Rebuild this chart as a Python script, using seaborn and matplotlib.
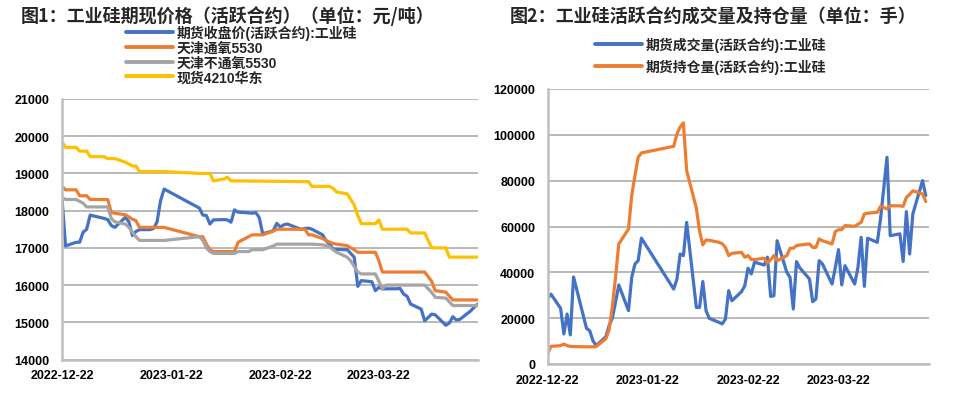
import matplotlib
matplotlib.use("Agg")
import matplotlib.pyplot as plt
import matplotlib.dates as mdates
from matplotlib.font_manager import FontProperties
import seaborn as sns
import pandas as pd

# ---------------- data: left chart (元/吨) ----------------
fut_close_dates = ["2022-12-22", "2022-12-23", "2022-12-26", "2022-12-27", "2022-12-28", "2022-12-29", "2022-12-30",
                   "2023-01-03", "2023-01-04", "2023-01-05", "2023-01-06", "2023-01-09", "2023-01-10", "2023-01-11",
                   "2023-01-12", "2023-01-13", "2023-01-16", "2023-01-17", "2023-01-18", "2023-01-19", "2023-01-20",
                   "2023-01-30", "2023-01-31", "2023-02-01", "2023-02-02", "2023-02-03", "2023-02-06", "2023-02-07",
                   "2023-02-08", "2023-02-09", "2023-02-10", "2023-02-13", "2023-02-14", "2023-02-15", "2023-02-16",
                   "2023-02-17", "2023-02-20", "2023-02-21", "2023-02-22", "2023-02-23", "2023-02-24", "2023-02-27",
                   "2023-02-28", "2023-03-01", "2023-03-02", "2023-03-03", "2023-03-06", "2023-03-07", "2023-03-08",
                   "2023-03-09", "2023-03-10", "2023-03-13", "2023-03-14", "2023-03-15", "2023-03-16", "2023-03-17",
                   "2023-03-20", "2023-03-21", "2023-03-22", "2023-03-23", "2023-03-24", "2023-03-27", "2023-03-28",
                   "2023-03-29", "2023-03-30", "2023-03-31", "2023-04-03", "2023-04-04", "2023-04-06", "2023-04-07",
                   "2023-04-10", "2023-04-11", "2023-04-12", "2023-04-13", "2023-04-14", "2023-04-17", "2023-04-18",
                   "2023-04-19"]
fut_close = [18330, 17050, 17150, 17150, 17420, 17500, 17880,
             17790, 17760, 17600, 17550, 17820, 17700, 17330,
             17440, 17490, 17490, 17520, 17700, 18270, 18580,
             18070, 17880, 17870, 17640, 17750, 17760, 17750,
             17690, 18020, 17960, 17940, 17930, 17950, 17820,
             17380, 17460, 17660, 17560, 17620, 17640, 17530,
             17500, 17520, 17530, 17500, 17350, 17190, 17100,
             16970, 16960, 16950, 16850, 16745, 15965, 16120,
             16090, 15850, 15940, 15895, 15900, 15900, 15910,
             15760, 15700, 15490, 15355, 15040, 15220, 15200,
             14920, 14980, 15150, 15060, 15080, 15300, 15400,
             15480]

tj_oxy_dates = ["2022-12-22", "2022-12-23", "2022-12-26", "2022-12-27", "2022-12-29", "2022-12-30", "2023-01-04",
                "2023-01-05", "2023-01-06", "2023-01-09", "2023-01-10", "2023-01-11", "2023-01-12", "2023-01-13",
                "2023-01-20", "2023-01-30", "2023-01-31", "2023-02-01", "2023-02-02", "2023-02-03", "2023-02-09",
                "2023-02-10", "2023-02-13", "2023-02-14", "2023-02-17", "2023-02-20", "2023-02-21", "2023-03-01",
                "2023-03-02", "2023-03-03", "2023-03-06", "2023-03-07", "2023-03-08", "2023-03-09", "2023-03-10",
                "2023-03-13", "2023-03-14", "2023-03-15", "2023-03-16", "2023-03-21", "2023-03-22", "2023-03-23",
                "2023-04-04", "2023-04-06", "2023-04-07", "2023-04-10", "2023-04-11", "2023-04-12", "2023-04-19"]
tj_oxy = [18650, 18560, 18560, 18400, 18400, 18300, 18300,
          17950, 17930, 17890, 17830, 17770, 17730, 17550,
          17550, 17300, 17300, 17100, 16950, 16900, 16900,
          17150, 17300, 17350, 17350, 17450, 17500, 17500,
          17350, 17350, 17250, 17200, 17150, 17120, 17100,
          17060, 17000, 16950, 16880, 16880, 16650, 16350,
          16350, 16100, 15850, 15810, 15700, 15600, 15600]

tj_nonoxy_dates = ["2022-12-22", "2022-12-23", "2022-12-26", "2022-12-27", "2022-12-28", "2022-12-29", "2023-01-04",
                   "2023-01-05", "2023-01-06", "2023-01-09", "2023-01-10", "2023-01-11", "2023-01-12", "2023-01-13",
                   "2023-01-20", "2023-01-30", "2023-01-31", "2023-02-01", "2023-02-02", "2023-02-03", "2023-02-09",
                   "2023-02-10", "2023-02-13", "2023-02-14", "2023-02-17", "2023-02-20", "2023-02-21", "2023-03-03",
                   "2023-03-06", "2023-03-07", "2023-03-08", "2023-03-09", "2023-03-10", "2023-03-13", "2023-03-14",
                   "2023-03-15", "2023-03-16", "2023-03-17", "2023-03-21", "2023-03-22", "2023-03-23", "2023-03-24",
                   "2023-04-04", "2023-04-06", "2023-04-07", "2023-04-10", "2023-04-11", "2023-04-12", "2023-04-19"]
tj_nonoxy = [18350, 18300, 18300, 18250, 18200, 18100, 18100,
             17790, 17700, 17640, 17550, 17420, 17300, 17200,
             17200, 17300, 17200, 17000, 16900, 16850, 16850,
             16900, 16900, 16950, 16950, 17050, 17100, 17100,
             17080, 17060, 17030, 16950, 16880, 16750, 16650,
             16500, 16350, 16300, 16300, 16100, 15900, 16000,
             16000, 15800, 15670, 15650, 15550, 15450, 15450]

spot_dates = ["2022-12-22", "2022-12-23", "2022-12-26", "2022-12-27", "2022-12-29", "2022-12-30", "2023-01-03",
              "2023-01-04", "2023-01-06", "2023-01-09", "2023-01-10", "2023-01-11", "2023-01-12", "2023-01-13",
              "2023-01-20", "2023-01-30", "2023-02-02", "2023-02-03", "2023-02-06", "2023-02-07", "2023-02-08",
              "2023-03-02", "2023-03-03", "2023-03-08", "2023-03-09", "2023-03-10", "2023-03-13", "2023-03-14",
              "2023-03-15", "2023-03-16", "2023-03-17", "2023-03-21", "2023-03-22", "2023-03-23", "2023-03-30",
              "2023-03-31", "2023-04-04", "2023-04-06", "2023-04-10", "2023-04-11", "2023-04-19"]
spot = [19850, 19700, 19700, 19600, 19600, 19450, 19450,
        19400, 19400, 19300, 19250, 19200, 19200, 19050,
        19050, 19000, 19000, 18800, 18850, 18900, 18800,
        18780, 18650, 18650, 18600, 18500, 18450, 18300,
        18150, 17870, 17650, 17650, 17750, 17500, 17500,
        17400, 17400, 17000, 17000, 16750, 16750]

left_names = ["期货收盘价(活跃合约):工业硅", "天津通氧5530", "天津不通氧5530", "现货4210华东"]

# ---------------- data: right chart (手) ----------------
vol_dates = ["2022-12-22", "2022-12-23", "2022-12-26", "2022-12-27", "2022-12-28", "2022-12-29", "2022-12-30",
             "2023-01-03", "2023-01-04", "2023-01-05", "2023-01-06", "2023-01-09", "2023-01-10", "2023-01-11",
             "2023-01-12", "2023-01-13", "2023-01-16", "2023-01-17", "2023-01-18", "2023-01-19", "2023-01-20",
             "2023-01-30", "2023-01-31", "2023-02-01", "2023-02-02", "2023-02-03", "2023-02-06", "2023-02-07",
             "2023-02-08", "2023-02-09", "2023-02-10", "2023-02-13", "2023-02-14", "2023-02-15", "2023-02-16",
             "2023-02-17", "2023-02-20", "2023-02-21", "2023-02-22", "2023-02-23", "2023-02-24", "2023-02-27",
             "2023-02-28", "2023-03-01", "2023-03-02", "2023-03-03", "2023-03-06", "2023-03-07", "2023-03-08",
             "2023-03-09", "2023-03-10", "2023-03-13", "2023-03-14", "2023-03-15", "2023-03-16", "2023-03-17",
             "2023-03-20", "2023-03-21", "2023-03-22", "2023-03-23", "2023-03-24", "2023-03-27", "2023-03-28",
             "2023-03-29", "2023-03-30", "2023-03-31", "2023-04-03", "2023-04-04", "2023-04-06", "2023-04-07",
             "2023-04-10", "2023-04-11", "2023-04-12", "2023-04-13", "2023-04-14", "2023-04-17", "2023-04-18"]
volume = [28500, 30500, 24300, 13100, 21800, 12700, 38000,
          15600, 14500, 10200, 8000, 11900, 16700, 20000,
          27000, 34500, 23300, 37800, 43600, 45100, 54900,
          32700, 37100, 48000, 47300, 61800, 24700, 24700,
          36000, 23300, 19900, 18200, 17500, 19600, 32000,
          27600, 31600, 34200, 41800, 39300, 44400, 43200,
          46600, 29500, 29800, 53800, 40000, 37800, 24000,
          44700, 42000, 37100, 27200, 28400, 45100, 43700,
          34900, 42000, 49900, 34500, 42900, 34900, 42000,
          55300, 33900, 54900, 53100, 63300, 90200, 56000,
          56800, 44700, 66500, 48000, 65500, 80000, 73500]

oi_dates = vol_dates
open_interest = [4400, 7700, 8000, 8700, 8000, 7700, 7600,
                 7500, 7500, 7500, 7600, 11000, 15000, 25000,
                 38000, 52400, 58900, 73500, 82200, 90200, 92100,
                 95000, 100400, 103500, 105200, 84400, 68000, 58000,
                 52000, 54100, 54000, 53100, 52500, 50900, 47300,
                 48300, 48700, 46600, 47300, 45600, 45600, 46100,
                 44100, 45500, 47300, 45100, 47300, 50500, 50500,
                 51650, 51900, 52400, 50900, 50900, 54600, 53800,
                 52400, 57800, 58600, 58600, 60400, 60100, 61000,
                 61800, 65500, 65800, 66200, 68800, 67700, 69100,
                 69000, 68800, 72700, 74000, 75600, 74200, 70900]

right_names = ["期货成交量(活跃合约):工业硅", "期货持仓量(活跃合约):工业硅"]

left_colors = ["#4472C4", "#ED7D31", "#A5A5A5", "#FFC000"]
right_colors = ["#4472C4", "#ED7D31"]

x_ticks = ["2022-12-22", "2023-01-22", "2023-02-22", "2023-03-22"]
x_range = ["2022-12-22", "2023-04-19"]

# ---------------- build frames ----------------
def frame(dates, vals, name):
    return pd.DataFrame({"date": pd.to_datetime(dates), "value": vals, "series": name})

left_df = pd.concat([
    frame(fut_close_dates, fut_close, left_names[0]),
    frame(tj_oxy_dates, tj_oxy, left_names[1]),
    frame(tj_nonoxy_dates, tj_nonoxy, left_names[2]),
    frame(spot_dates, spot, left_names[3]),
], ignore_index=True)
right_df = pd.concat([
    frame(vol_dates, volume, right_names[0]),
    frame(oi_dates, open_interest, right_names[1]),
], ignore_index=True)

sns.set_theme(style="white")
FAM = ["Liberation Sans", "Noto Sans CJK SC", "DejaVu Sans"]
plt.rcParams["font.family"] = FAM
plt.rcParams["font.weight"] = "bold"

W, H = 963, 402
fig = plt.figure(figsize=(W / 100, H / 100), dpi=100)
axL = fig.add_axes([62 / W, 1 - 360.5 / H, (477.5 - 62) / W, (360.5 - 100) / H])
axR = fig.add_axes([547.7 / W, 1 - 365 / H, (929 - 547.7) / W, (365 - 90) / H])

sns.lineplot(data=left_df, x="date", y="value", hue="series", hue_order=left_names,
             palette=dict(zip(left_names, left_colors)), estimator=None, sort=True,
             linewidth=2.3, ax=axL)
sns.lineplot(data=right_df, x="date", y="value", hue="series", hue_order=right_names,
             palette=dict(zip(right_names, right_colors)), estimator=None, sort=True,
             linewidth=2.3, ax=axR)

grid_c = "#A6A6A6"
spine_c = "#BFBFBF"
tick_font = FontProperties(family=FAM, weight="bold", size=9)

for ax, ylo, yhi, step in [(axL, 14000, 21000, 1000), (axR, 0, 120000, 20000)]:
    ax.set_ylim(ylo, yhi)
    ax.set_yticks(range(ylo, yhi + 1, step))
    ax.set_xlim(pd.to_datetime(x_range[0]), pd.to_datetime(x_range[1]))
    ax.set_xticks(pd.to_datetime(x_ticks))
    ax.xaxis.set_major_formatter(mdates.DateFormatter("%Y-%m-%d"))
    ax.set_xlabel("")
    ax.set_ylabel("")
    ax.grid(axis="y", color=grid_c, linewidth=1.1)
    ax.grid(axis="x", visible=False)
    ax.set_axisbelow(True)
    for s in ["top", "right"]:
        ax.spines[s].set_visible(False)
    for s in ["left", "bottom"]:
        ax.spines[s].set_color(spine_c)
        ax.spines[s].set_linewidth(1.8)
    ax.tick_params(axis="y", length=2, color=spine_c, pad=7)
    ax.tick_params(axis="x", length=4, width=1.2, color=spine_c, pad=3, direction="out")
    for lab in ax.get_xticklabels() + ax.get_yticklabels():
        lab.set_fontproperties(tick_font)
        lab.set_color("black")

title_font = FontProperties(family=["Noto Sans CJK SC", "DejaVu Sans"], weight="bold", size=13)
fig.text(228 / W, 1 - 16 / H, "图1：工业硅期现价格（活跃合约）（单位：元/吨）", ha="center", va="center",
         fontproperties=title_font)
fig.text(713 / W, 1 - 17 / H, "图2：工业硅活跃合约成交量及持仓量（单位：手）", ha="center", va="center",
         fontproperties=title_font)

leg_font = FontProperties(family=FAM, weight="bold", size=10)
sns.move_legend(axL, loc="upper left", bbox_to_anchor=(126 / W, 1 - 26 / H), bbox_transform=fig.transFigure,
                frameon=False, title=None, prop=leg_font, handlelength=3.4, handletextpad=0.25,
                labelspacing=0.05, borderpad=0, borderaxespad=0)
sns.move_legend(axR, loc="upper left", bbox_to_anchor=(595 / W, 1 - 38 / H), bbox_transform=fig.transFigure,
                frameon=False, title=None, prop=leg_font, handlelength=3.4, handletextpad=0.25,
                labelspacing=0.45, borderpad=0, borderaxespad=0)
for ax in (axL, axR):
    for ln in ax.get_legend().get_lines():
        ln.set_linewidth(2.8)

fig.savefig("out.png", dpi=100)
